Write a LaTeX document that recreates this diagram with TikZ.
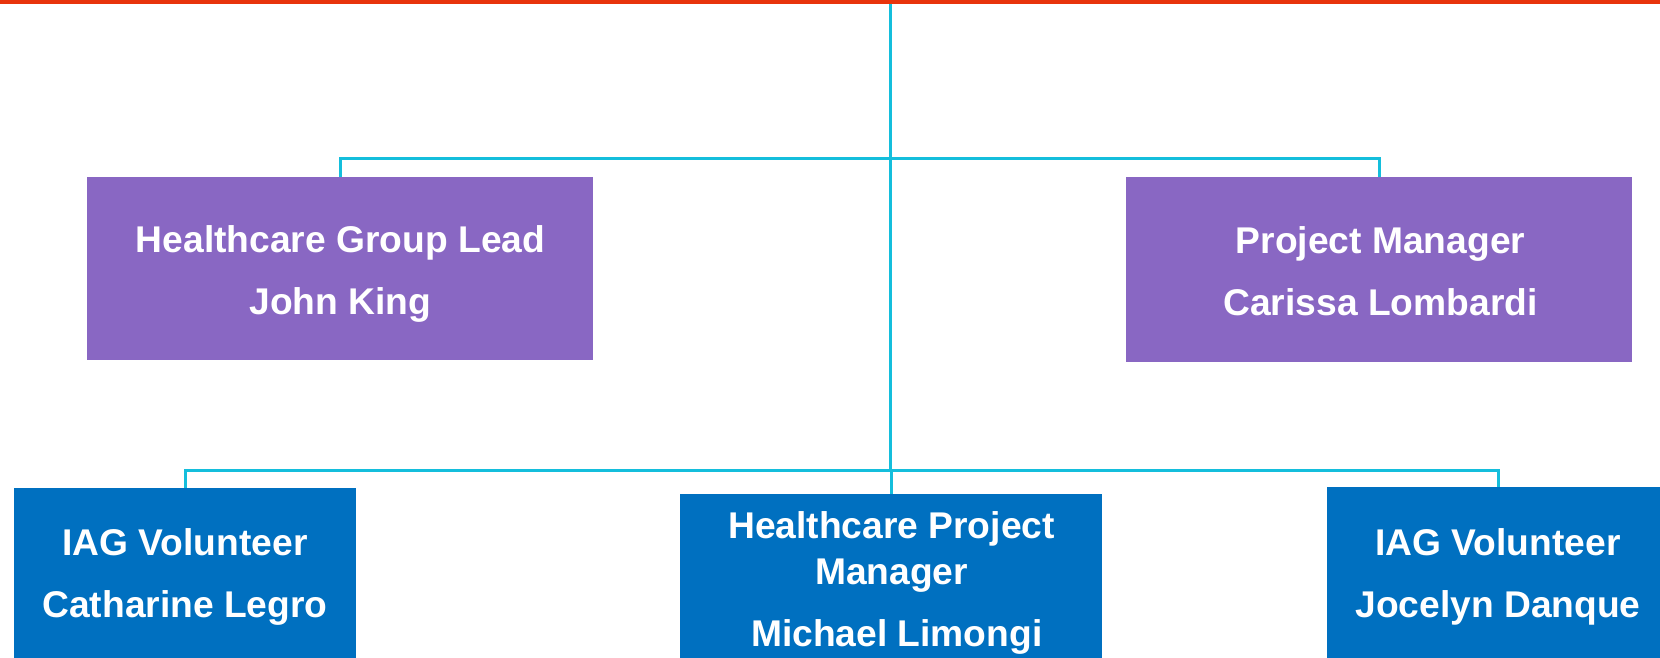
\documentclass[tikz,border=0pt]{standalone}
\usepackage{fontspec}
\setmainfont{Liberation Sans}
\definecolor{topred}{HTML}{E8340C}
\definecolor{linecyan}{HTML}{14BEDC}
\definecolor{boxpurple}{HTML}{8967C3}
\definecolor{boxblue}{HTML}{0070C0}
\newcommand{\lstrut}{\rule[-6.7pt]{0pt}{40pt}}
\begin{document}
\begin{tikzpicture}[x=1pt,y=-1pt,
  box/.style={rectangle, inner sep=0pt},
  pbox/.style={box, fill=boxpurple},
  bbox/.style={box, fill=boxblue},
  boxtext/.style={inner sep=0pt, text=white, align=center,
    font=\bfseries\fontsize{37.2}{62}\selectfont},
  conn/.style={draw=linecyan, line width=3pt}]
\useasboundingbox (0,0) rectangle (1660,658);
\fill[topred] (0,0) rectangle (1660,4);
\coordinate (top) at (890,4);
\coordinate (bus1) at (890,159);
\coordinate (bus2) at (890,470);
% boxes
\node[pbox, minimum width=506pt, minimum height=183pt] (tl) at (340,268.5) {};
\node[pbox, minimum width=506pt, minimum height=185pt] (tr) at (1379,269.5) {};
\node[bbox, minimum width=342pt, minimum height=170pt] (bl) at (185,573) {};
\node[bbox, minimum width=422pt, minimum height=164pt] (bm) at (891,576) {};
\node[bbox, minimum width=342pt, minimum height=171pt] (br) at (1498,572.5) {};
% texts
\node[boxtext] (tlt) at (340.5,271) {\lstrut Healthcare Group Lead\\\lstrut John King};
\node[boxtext] (trt) at (1380.5,271) {\lstrut Project Manager\\\lstrut Carissa Lombardi};
\node[boxtext] (blt) at (185,574) {\lstrut IAG Volunteer\\\lstrut Catharine Legro};
\node[boxtext, font=\bfseries\fontsize{37.2}{46}\selectfont] (bmt) at (891.5,580) {\lstrut Healthcare Project\\\lstrut Manager\\[16pt]\lstrut\kern10.5pt Michael Limongi};
\node[boxtext] (brt) at (1498,574) {\lstrut IAG Volunteer\\\lstrut Jocelyn Danque};
% connectors
\draw[conn] (top) -- (bus2);
\draw[conn] (tl.north) |- (bus1) -| (tr.north);
\draw[conn] (bl.north) |- (bus2) -| (br.north);
\draw[conn] (bus2) -| (bm.north);
\end{tikzpicture}
\end{document}
